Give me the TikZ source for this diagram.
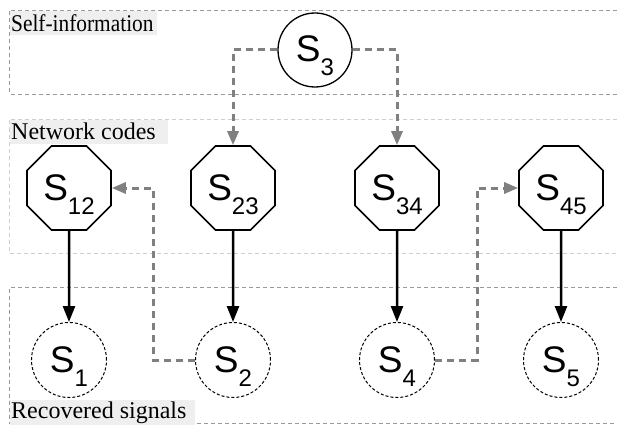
\documentclass[tikz,border=0pt]{standalone}
\usepackage{fontspec}
\setmainfont{Liberation Serif}
\newfontfamily\nodefont{Liberation Sans}
\usetikzlibrary{shapes.geometric,arrows.meta}
\definecolor{conngray}{HTML}{808080}
\definecolor{labelbg}{HTML}{EFEFEF}
\definecolor{boxgray}{HTML}{9A9A9A}
\definecolor{boxlight}{HTML}{CFCFCF}
\newcommand{\sig}[1]{{\nodefont\fontsize{37}{37}\selectfont S\raisebox{-14pt}{\fontsize{24}{24}\selectfont #1}}}
\tikzset{
  octnode/.style={regular polygon, regular polygon sides=8, minimum size=91pt, inner sep=0pt, draw, line width=1.6pt, text height=24pt, text depth=0pt},
  selfnode/.style={circle, draw, line width=1.3pt, minimum size=74pt, inner sep=0pt, text height=24pt, text depth=0pt},
  recnode/.style={circle, draw, dash pattern=on 3pt off 2pt, line width=1pt, minimum size=75pt, inner sep=0pt, text height=24pt, text depth=0pt},
  solidarrow/.style={-{Triangle[length=16pt,width=12pt]}, line width=2.5pt},
  dasharrow/.style={draw=conngray, line width=3pt, dash pattern=on 7pt off 5pt, -{Triangle[length=14pt,width=11pt]}},
  groupbox/.style={line width=0.8pt, dash pattern=on 4pt off 3pt},
  grouplabel/.style={fill=labelbg, anchor=north west, inner xsep=1pt, inner ysep=0pt, font=\fontsize{24}{24}\selectfont}
}
\begin{document}
\begin{tikzpicture}[x=1pt,y=-1pt]
\useasboundingbox (0,0) rectangle (617,425);
% group boxes
\draw[groupbox, draw=boxgray] (617,10) -- (9.5,10) -- (9.5,94) -- (617,94);
\draw[groupbox, draw=boxlight] (617,119) -- (9.5,119) -- (9.5,253) -- (617,253);
\draw[groupbox, draw=boxgray] (617,287) -- (9.5,287) -- (9.5,423) -- (617,423);
% labels
\node[grouplabel, minimum height=24pt] (l1) at (10,11) {\scalebox{0.89}[1]{Self-information}\hspace*{2pt}};
\node[grouplabel, minimum height=24pt] (l2) at (10,119.5) {Network codes\hspace*{11pt}};
\node[grouplabel, minimum height=25pt] (l3) at (10,400) {Recovered signals\hspace*{8pt}};
% nodes
\node[selfnode] (s3) at (315,50) {\sig{3}};
\node[octnode] (s12) at (69,188) {\sig{12}};
\node[octnode] (s23) at (233,188) {\sig{23}};
\node[octnode] (s34) at (397,188) {\sig{34}};
\node[octnode] (s45) at (561,188) {\sig{45}};
\node[recnode] (s1) at (69,360) {\sig{1}};
\node[recnode] (s2) at (233,360) {\sig{2}};
\node[recnode] (s4) at (397,360) {\sig{4}};
\node[recnode] (s5) at (561,360) {\sig{5}};
\coordinate (j1) at (153,0);
\coordinate (j2) at (477,0);
% solid arrows
\draw[solidarrow] (s12.south) -- (s1.north);
\draw[solidarrow] (s23.south) -- (s2.north);
\draw[solidarrow] (s34.south) -- (s4.north);
\draw[solidarrow] (s45.south) -- (s5.north);
% dashed connectors
\draw[dasharrow] (s3.west) -| (s23.north);
\draw[dasharrow] (s3.east) -| (s34.north);
\draw[dasharrow] (s2.west) -- (s2.west -| j1) |- (s12.east);
\draw[dasharrow] (s4.east) -- (s4.east -| j2) |- (s45.west);
\end{tikzpicture}
\end{document}
